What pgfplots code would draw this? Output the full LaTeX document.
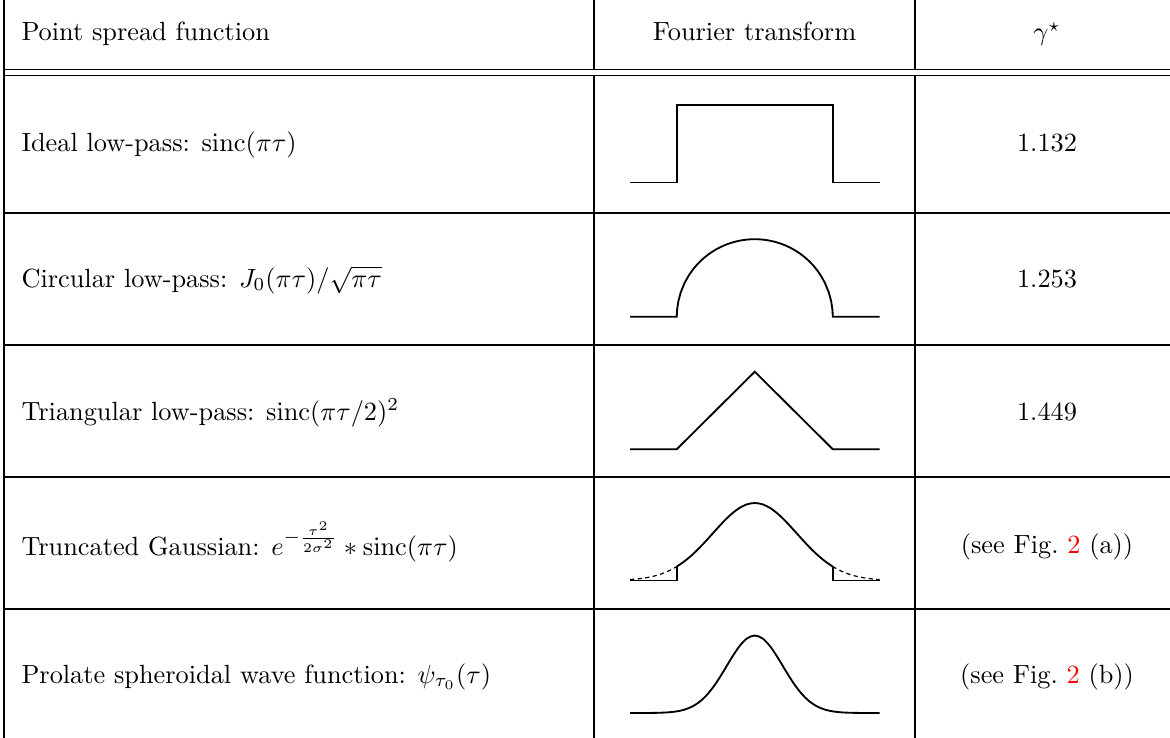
\documentclass[border=0pt]{standalone}
\usepackage{pgfplots}
\pgfplotsset{compat=1.18}
\usepackage{xcolor}

\pgfplotsset{
  psf/.style={
    hide axis, scale only axis, clip=false,
    width=94.81pt, height=29.45pt,
    xmin=-1.6, xmax=1.6, ymin=0, ymax=1,
    anchor=south west,
  },
  curve/.style={black, line width=0.7pt, mark=none},
  tail/.style={black, line width=0.45pt, mark=none, dash pattern=on 1.6pt off 1.3pt},
}

\begin{document}
\begin{tikzpicture}
\useasboundingbox (0,0) rectangle (444.6pt,-280.44pt);
\clip (0,0) rectangle (444.6pt,-280.44pt);

% table grid and text, in pixel units (y down)
\begin{scope}[x=0.38pt, y=-0.38pt, line width=0.4pt]
  \draw (4,-3) rectangle (1179,741);
  \foreach \yy in {69.5, 75.5, 213, 345, 477, 609}
    \draw (4,\yy) -- (1179,\yy);
  \draw (594,-3) -- (594,69.5) (594,75.5) -- (594,741);
  \draw (915,-3) -- (915,69.5) (915,75.5) -- (915,741);

  \tikzset{every node/.style={inner sep=0pt, font=\normalsize}}
  \node[anchor=base west] at (21,40.7) {Point spread function};
  \node[anchor=base] at (754.5,40.7) {Fourier transform};
  \node[anchor=base] at (1047,40.7) {$\gamma^\star$};

  \node[anchor=base west] at (21,152) {Ideal low-pass: $\mathrm{sinc}(\pi\tau)$};
  \node[anchor=base west] at (21,287) {Circular low-pass: $J_0(\pi\tau)/\sqrt{\pi\tau}$};
  \node[anchor=base west] at (21,420) {Triangular low-pass: $\mathrm{sinc}(\pi\tau/2)^2$};
  \node[anchor=base west] at (21,555) {Truncated Gaussian: $e^{-\frac{\tau^2}{2\sigma^2}} \ast \mathrm{sinc}(\pi\tau)$};
  \node[anchor=base west] at (21,683) {Prolate spheroidal wave function: $\psi_{\tau_0}(\tau)$};

  \node[anchor=base] at (1047,152) {1.132};
  \node[anchor=base] at (1047,287) {1.253};
  \node[anchor=base] at (1047,420) {1.449};
  \node[anchor=base] at (1047,553) {(see Fig.~\textcolor{red}{2} (a))};
  \node[anchor=base] at (1047,683) {(see Fig.~\textcolor{red}{2} (b))};
\end{scope}

% ideal low-pass: rectangle
\begin{axis}[psf, at={(630*0.38pt,-182.5*0.38pt)}]
  \addplot[curve] coordinates {(-1.6,0) (-1,0) (-1,1) (1,1) (1,0) (1.6,0)};
\end{axis}

% circular low-pass: half circle
\begin{axis}[psf, at={(630*0.38pt,-316.7*0.38pt)}]
  \addplot[curve] coordinates {
    (-1.6,0) (-1,0) (-0.999,0.0447) (-0.995,0.0999) (-0.98,0.199) (-0.95,0.3122)
    (-0.9,0.4359) (-0.85,0.5268) (-0.8,0.6) (-0.75,0.6614) (-0.7,0.7141)
    (-0.65,0.7599) (-0.6,0.8) (-0.55,0.8352) (-0.5,0.866) (-0.45,0.893)
    (-0.4,0.9165) (-0.35,0.9367) (-0.3,0.9539) (-0.25,0.9682) (-0.2,0.9798)
    (-0.15,0.9887) (-0.1,0.995) (-0.05,0.9987) (0,1)
    (0.05,0.9987) (0.1,0.995) (0.15,0.9887) (0.2,0.9798) (0.25,0.9682)
    (0.3,0.9539) (0.35,0.9367) (0.4,0.9165) (0.45,0.893) (0.5,0.866)
    (0.55,0.8352) (0.6,0.8) (0.65,0.7599) (0.7,0.7141) (0.75,0.6614)
    (0.8,0.6) (0.85,0.5268) (0.9,0.4359) (0.95,0.3122) (0.98,0.199)
    (0.995,0.0999) (0.999,0.0447) (1,0) (1.6,0)};
\end{axis}

% triangular low-pass
\begin{axis}[psf, at={(630*0.38pt,-449.2*0.38pt)}]
  \addplot[curve] coordinates {(-1.6,0) (-1,0) (0,1) (1,0) (1.6,0)};
\end{axis}

% truncated Gaussian
\begin{axis}[psf, at={(630*0.38pt,-580.5*0.38pt)}]
  \addplot[curve] coordinates {(-1.6,0) (-1,0) (-1,0.18)};
  \addplot[curve, smooth] coordinates {
    (-1,0.18) (-0.9,0.2494) (-0.8,0.3337) (-0.7,0.4316) (-0.6,0.5394)
    (-0.5,0.6513) (-0.4,0.7601) (-0.3,0.857) (-0.2,0.9337) (-0.1,0.983) (0,1)
    (0.1,0.983) (0.2,0.9337) (0.3,0.857) (0.4,0.7601) (0.5,0.6513)
    (0.6,0.5394) (0.7,0.4316) (0.8,0.3337) (0.9,0.2494) (1,0.18)};
  \addplot[curve] coordinates {(1,0.18) (1,0) (1.6,0)};
  \addplot[tail, smooth] coordinates {
    (-1.6,0.0124) (-1.5,0.0211) (-1.4,0.0347) (-1.3,0.0551) (-1.2,0.0847)
    (-1.1,0.1256) (-1,0.18)};
  \addplot[tail, smooth] coordinates {
    (1,0.18) (1.1,0.1256) (1.2,0.0847) (1.3,0.0551) (1.4,0.0347)
    (1.5,0.0211) (1.6,0.0124)};
\end{axis}

% prolate spheroidal wave function
\begin{axis}[psf, at={(630*0.38pt,-713*0.38pt)}]
  \addplot[curve, smooth] coordinates {
    (-1.6,0) (-1.4,0.0005) (-1.3,0.0015) (-1.2,0.0039) (-1.1,0.0094)
    (-1,0.0211) (-0.9,0.0439) (-0.8,0.0847) (-0.7,0.151) (-0.6,0.2494)
    (-0.5,0.3812) (-0.4,0.5394) (-0.3,0.7066) (-0.2,0.857) (-0.1,0.9622) (0,1)
    (0.1,0.9622) (0.2,0.857) (0.3,0.7066) (0.4,0.5394) (0.5,0.3812)
    (0.6,0.2494) (0.7,0.151) (0.8,0.0847) (0.9,0.0439) (1,0.0211)
    (1.1,0.0094) (1.2,0.0039) (1.3,0.0015) (1.4,0.0005) (1.6,0)};
\end{axis}
\end{tikzpicture}
\end{document}
